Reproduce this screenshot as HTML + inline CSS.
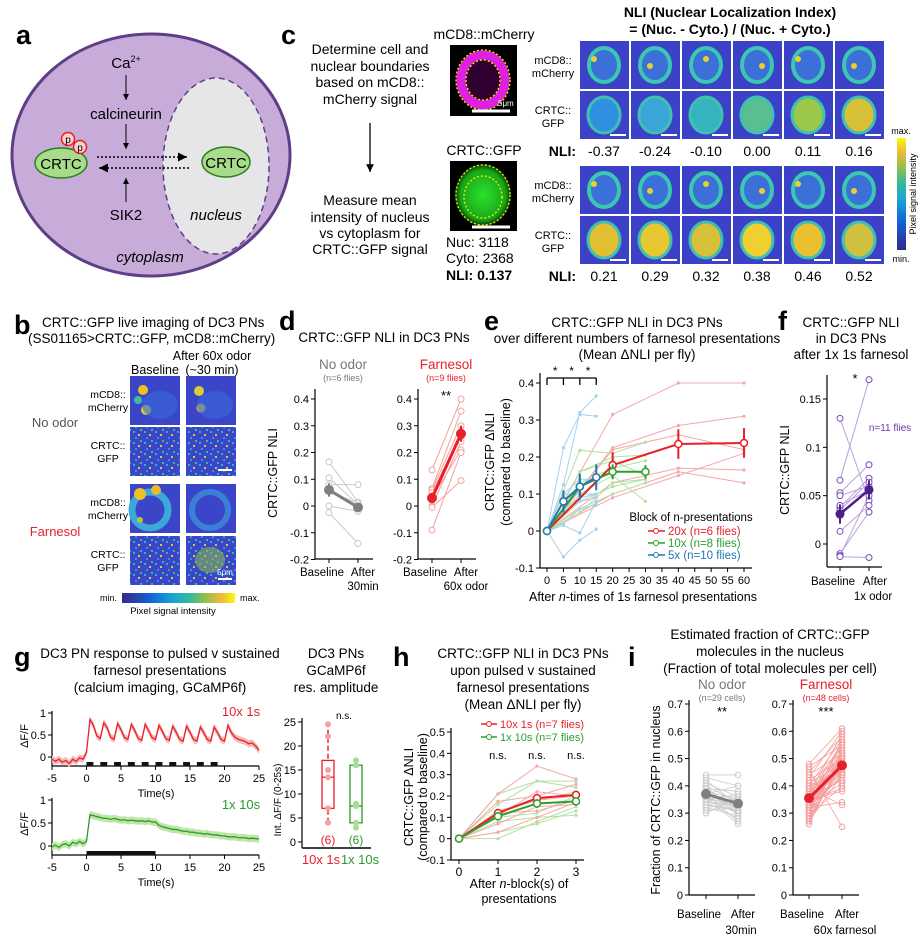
<!DOCTYPE html>
<html><head><meta charset="utf-8">
<style>
html,body{margin:0;padding:0;background:#fff;}
svg{display:block;font-family:"Liberation Sans",Arial,sans-serif;}
.pl{font-weight:bold;font-size:27px;}
</style></head>
<body>
<svg id="fig" width="923" height="941" viewBox="0 0 923 941" xmlns="http://www.w3.org/2000/svg">
<defs>
<marker id="ah" markerWidth="8" markerHeight="8" refX="6" refY="3" orient="auto"><path d="M0,0 L6,3 L0,6 z" fill="#000"/></marker>
<linearGradient id="parulaH" x1="0" x2="1" y1="0" y2="0">
<stop offset="0" stop-color="#352a87"/><stop offset="0.25" stop-color="#1360d8"/><stop offset="0.45" stop-color="#1aa5d4"/><stop offset="0.6" stop-color="#35b99c"/><stop offset="0.75" stop-color="#9cc048"/><stop offset="0.88" stop-color="#f0b93a"/><stop offset="1" stop-color="#f9fb0e"/></linearGradient>
<linearGradient id="parulaV" x1="0" x2="0" y1="1" y2="0">
<stop offset="0" stop-color="#352a87"/><stop offset="0.25" stop-color="#1360d8"/><stop offset="0.45" stop-color="#1aa5d4"/><stop offset="0.6" stop-color="#35b99c"/><stop offset="0.75" stop-color="#9cc048"/><stop offset="0.88" stop-color="#f0b93a"/><stop offset="1" stop-color="#f9fb0e"/></linearGradient>
<radialGradient id="gfpBlob"><stop offset="0" stop-color="#2ee02e"/><stop offset="0.8" stop-color="#18a818"/><stop offset="1" stop-color="#063806"/></radialGradient>
<pattern id="speck" width="11" height="11" patternUnits="userSpaceOnUse">
<rect width="11" height="11" fill="#3b45c8"/><rect x="1" y="2" width="2" height="2" fill="#2bb3c0"/><rect x="6" y="5" width="2" height="2" fill="#c8d040"/><rect x="3" y="8" width="2" height="2" fill="#3a8fe0"/><rect x="8" y="0" width="2" height="2" fill="#30c090"/></pattern>
</defs>

<g>
<text class="pl" x="16" y="44">a</text>
<ellipse cx="151" cy="155" rx="139" ry="121" fill="#c7acd9" stroke="#5e3f87" stroke-width="3"/>
<ellipse cx="216" cy="166" rx="53" ry="88" fill="#e6e6e9" stroke="#5e3f87" stroke-width="1.5" stroke-dasharray="6 4"/>
<text x="126" y="68" font-size="15" text-anchor="middle">Ca<tspan font-size="9" dy="-6">2+</tspan></text>
<line x1="126" y1="75" x2="126" y2="100" stroke="#000" marker-end="url(#ah)"/>
<text x="126" y="119" font-size="15" text-anchor="middle">calcineurin</text>
<line x1="126" y1="124" x2="126" y2="149" stroke="#000" marker-end="url(#ah)"/>
<ellipse cx="61" cy="163" rx="26" ry="15" fill="#a9dc8a" stroke="#2f7d1f" stroke-width="1.5"/>
<text x="61" y="169" font-size="15" text-anchor="middle">CRTC</text>
<circle cx="68" cy="139" r="6.5" fill="#fbd0d0" stroke="#e02020" stroke-width="1.5"/>
<text x="68" y="143" font-size="10" text-anchor="middle">p</text>
<circle cx="80" cy="147" r="6.5" fill="#fbd0d0" stroke="#e02020" stroke-width="1.5"/>
<text x="80" y="151" font-size="10" text-anchor="middle">p</text>
<line x1="97" y1="157" x2="187" y2="157" stroke="#000" stroke-width="1.5" stroke-dasharray="2 2" marker-end="url(#ah)"/>
<line x1="189" y1="168" x2="99" y2="168" stroke="#000" stroke-width="1.5" stroke-dasharray="2 2" marker-end="url(#ah)"/>
<line x1="126" y1="202" x2="126" y2="178" stroke="#000" marker-end="url(#ah)"/>
<text x="126" y="220" font-size="15" text-anchor="middle">SIK2</text>
<ellipse cx="226" cy="162" rx="24" ry="15" fill="#a9dc8a" stroke="#2f7d1f" stroke-width="1.5"/>
<text x="226" y="168" font-size="15" text-anchor="middle">CRTC</text>
<text x="216" y="220" font-size="15" font-style="italic" text-anchor="middle">nucleus</text>
<text x="150" y="262" font-size="15" font-style="italic" text-anchor="middle">cytoplasm</text>
</g>

<g>
<text class="pl" x="281" y="44">c</text>
<g font-size="14" text-anchor="middle">
<text x="370" y="54">Determine cell and</text><text x="370" y="71">nuclear boundaries</text><text x="370" y="87">based on mCD8::</text><text x="370" y="104">mCherry signal</text></g>
<line x1="370" y1="123" x2="370" y2="172" stroke="#000" stroke-width="1.3" marker-end="url(#ah)"/>
<g font-size="14" text-anchor="middle">
<text x="370" y="205">Measure mean</text><text x="370" y="222">intensity of nucleus</text><text x="370" y="238">vs cytoplasm for</text><text x="370" y="254">CRTC::GFP signal</text></g>
<text x="484" y="39" font-size="14" text-anchor="middle">mCD8::mCherry</text>
<rect x="450" y="45" width="67" height="71" fill="#000"/>
<ellipse cx="483" cy="80" rx="22" ry="25" fill="#300030" stroke="#e020e0" stroke-width="9"/>
<ellipse cx="483" cy="80" rx="27" ry="30" fill="none" stroke="#f0f000" stroke-width="1.3" stroke-dasharray="2 2"/>
<ellipse cx="483" cy="80" rx="17" ry="20" fill="none" stroke="#f0f000" stroke-width="1.3" stroke-dasharray="2 2"/>
<line x1="472" y1="111" x2="510" y2="111" stroke="#fff" stroke-width="3"/>
<text x="498" y="106" font-size="8" fill="#fff">5μm</text>
<text x="484" y="155" font-size="14" text-anchor="middle">CRTC::GFP</text>
<rect x="450" y="161" width="67" height="70" fill="#000"/>
<ellipse cx="483" cy="195" rx="28" ry="31" fill="url(#gfpBlob)"/>
<ellipse cx="483" cy="195" rx="27" ry="30" fill="none" stroke="#f0f000" stroke-width="1.3" stroke-dasharray="2 2"/>
<ellipse cx="483" cy="197" rx="19" ry="21" fill="none" stroke="#f0f000" stroke-width="1.3" stroke-dasharray="2 2"/>
<line x1="472" y1="227" x2="510" y2="227" stroke="#fff" stroke-width="3"/>
<g font-size="14">
<text x="446" y="247">Nuc:  3118</text><text x="446" y="263">Cyto: 2368</text><text x="446" y="280" font-weight="bold">NLI:  0.137</text></g>
<text x="730" y="17" font-size="14" font-weight="bold" text-anchor="middle">NLI (Nuclear Localization Index)</text>
<text x="730" y="34" font-size="14" font-weight="bold" text-anchor="middle">= (Nuc. - Cyto.) / (Nuc. + Cyto.)</text>
<g font-size="11" text-anchor="middle">
<text x="553" y="64">mCD8::</text><text x="553" y="77">mCherry</text>
<text x="553" y="114">CRTC::</text><text x="553" y="127">GFP</text>
<text x="553" y="189">mCD8::</text><text x="553" y="202">mCherry</text>
<text x="553" y="239">CRTC::</text><text x="553" y="252">GFP</text></g>
<text x="576" y="156" font-size="14" font-weight="bold" text-anchor="end">NLI:</text>
<text x="576" y="281" font-size="14" font-weight="bold" text-anchor="end">NLI:</text>
<g id="cgrid"></g>
<rect x="897" y="138" width="9" height="112" fill="url(#parulaV)"/>
<text x="901" y="134" font-size="9" text-anchor="middle">max.</text>
<text x="901" y="262" font-size="9" text-anchor="middle">min.</text>
<text transform="translate(916,194) rotate(-90)" font-size="9" text-anchor="middle">Pixel signal intensity</text>
</g>

<g>
<text class="pl" x="14" y="334">b</text>
<text x="42" y="327" font-size="13.5">CRTC::GFP live imaging of DC3 PNs</text>
<text x="28" y="343" font-size="13.5">(SS01165&gt;CRTC::GFP, mCD8::mCherry)</text>
<text x="212" y="360" font-size="12.5" text-anchor="middle">After 60x odor</text>
<text x="155" y="374" font-size="12.5" text-anchor="middle">Baseline</text>
<text x="212" y="374" font-size="12.5" text-anchor="middle">(~30 min)</text>
<text x="55" y="427" font-size="13" fill="#555" text-anchor="middle">No odor</text>
<text x="55" y="536" font-size="13" fill="#e8202a" text-anchor="middle">Farnesol</text>
<g font-size="10.5" text-anchor="middle">
<text x="108" y="398">mCD8::</text><text x="108" y="411">mCherry</text>
<text x="108" y="449">CRTC::</text><text x="108" y="462">GFP</text>
<text x="108" y="506">mCD8::</text><text x="108" y="519">mCherry</text>
<text x="108" y="558">CRTC::</text><text x="108" y="571">GFP</text></g>
<g>
<rect x="130" y="376" width="50" height="49" fill="#3b45c8"/><circle cx="143" cy="390" r="5" fill="#f0c020"/><circle cx="138" cy="400" r="4" fill="#3ac0a0"/><circle cx="146" cy="410" r="5" fill="#d8d030"/><ellipse cx="160" cy="405" rx="18" ry="14" fill="#3a6ad8" opacity="0.6"/>
<rect x="186" y="376" width="50" height="49" fill="#3b45c8"/><circle cx="199" cy="391" r="5" fill="#d8d030"/><circle cx="201" cy="408" r="4.5" fill="#e0c030"/><ellipse cx="215" cy="405" rx="18" ry="14" fill="#3a6ad8" opacity="0.6"/>
<rect x="130" y="427" width="50" height="49" fill="url(#speck)"/>
<rect x="186" y="427" width="50" height="49" fill="url(#speck)"/>
<line x1="218" y1="470" x2="232" y2="470" stroke="#fff" stroke-width="2"/>
<rect x="130" y="484" width="50" height="49" fill="#3b45c8"/><ellipse cx="150" cy="510" rx="18" ry="18" fill="none" stroke="#3aa8d8" stroke-width="7"/><circle cx="140" cy="494" r="6" fill="#f0c020"/><circle cx="156" cy="490" r="5" fill="#e8b830"/><circle cx="140" cy="520" r="3" fill="#c0c040"/>
<rect x="186" y="484" width="50" height="49" fill="#3b45c8"/><ellipse cx="210" cy="510" rx="18" ry="18" fill="none" stroke="#3a80d8" stroke-width="6"/>
<rect x="130" y="536" width="50" height="49" fill="url(#speck)"/>
<rect x="186" y="536" width="50" height="49" fill="url(#speck)"/><ellipse cx="210" cy="560" rx="15" ry="13" fill="#8cc048" opacity="0.55"/>
<line x1="218" y1="579" x2="232" y2="579" stroke="#fff" stroke-width="2"/>
<text x="225" y="575" font-size="8" fill="#fff" text-anchor="middle">5μm</text>
</g>
<rect x="122" y="593" width="113" height="10" fill="url(#parulaH)"/>
<text x="117" y="601" font-size="9" text-anchor="end">min.</text>
<text x="240" y="601" font-size="9">max.</text>
<text x="173" y="614" font-size="9.5" text-anchor="middle">Pixel signal intensity</text>
</g>

<text class="pl" x="279" y="330">d</text>
<text x="384" y="342" font-size="13.5" text-anchor="middle">CRTC::GFP NLI in DC3 PNs</text>
<text x="343" y="369" font-size="13.5" fill="#777" text-anchor="middle">No odor</text>
<text x="343" y="381" font-size="9" fill="#777" text-anchor="middle">(n=6 flies)</text>
<text x="446" y="369" font-size="13.5" fill="#e8202a" text-anchor="middle">Farnesol</text>
<text x="446" y="381" font-size="9" fill="#e8202a" text-anchor="middle">(n=9 flies)</text>
<text transform="translate(277,473) rotate(-90)" font-size="12.5" text-anchor="middle">CRTC::GFP NLI</text>

<text class="pl" x="484" y="330">e</text>
<g font-size="13.5" text-anchor="middle">
<text x="637" y="327">CRTC::GFP NLI in DC3 PNs</text><text x="637" y="343">over different numbers of farnesol presentations</text><text x="637" y="359">(Mean ΔNLI per fly)</text></g>
<text transform="translate(494,462) rotate(-90)" font-size="12.5" text-anchor="middle">CRTC::GFP ΔNLI</text>
<text transform="translate(510,462) rotate(-90)" font-size="12.5" text-anchor="middle">(compared to baseline)</text>
<text x="643" y="601" font-size="12.5" text-anchor="middle">After <tspan font-style="italic">n</tspan>-times of 1s farnesol presentations</text>

<text class="pl" x="778" y="330">f</text>
<g font-size="13.5" text-anchor="middle">
<text x="851" y="327">CRTC::GFP NLI</text><text x="851" y="343">in DC3 PNs</text><text x="851" y="359">after 1x 1s farnesol</text></g>
<text transform="translate(789,470) rotate(-90)" font-size="12.5" text-anchor="middle">CRTC::GFP NLI</text>
<text x="890" y="431" font-size="10" fill="#6a3aaa" text-anchor="middle">n=11 flies</text>

<text class="pl" x="14" y="666" font-size="34">g</text>
<g font-size="13.5" text-anchor="middle">
<text x="160" y="658">DC3 PN response to pulsed v sustained</text><text x="160" y="675">farnesol presentations</text><text x="160" y="692">(calcium imaging, GCaMP6f)</text></g>
<g font-size="13.5" text-anchor="middle">
<text x="336" y="658">DC3 PNs</text><text x="336" y="675">GCaMP6f</text><text x="336" y="692">res. amplitude</text></g>
<text x="241" y="716" font-size="13" fill="#e8202a" text-anchor="middle">10x 1s</text>
<text x="241" y="809" font-size="13" fill="#2a9a2a" text-anchor="middle">1x 10s</text>
<text transform="translate(28,736) rotate(-90)" font-size="11" text-anchor="middle">ΔF/F</text>
<text transform="translate(28,824) rotate(-90)" font-size="11" text-anchor="middle">ΔF/F</text>
<text x="156" y="797" font-size="11" text-anchor="middle">Time(s)</text>
<text x="156" y="886" font-size="11" text-anchor="middle">Time(s)</text>
<text transform="translate(281,800) rotate(-90)" font-size="10" text-anchor="middle">Int. ΔF/F (0-25s)</text>
<text x="321" y="864" font-size="13" fill="#e8202a" text-anchor="middle">10x 1s</text>
<text x="360" y="864" font-size="13" fill="#2a9a2a" text-anchor="middle">1x 10s</text>
<text x="344" y="719" font-size="10" text-anchor="middle">n.s.</text>

<text class="pl" x="393" y="666" font-size="34">h</text>
<g font-size="13.5" text-anchor="middle">
<text x="523" y="658">CRTC::GFP NLI in DC3 PNs</text><text x="523" y="675">upon pulsed v sustained</text><text x="523" y="692">farnesol presentations</text><text x="523" y="709">(Mean ΔNLI per fly)</text></g>
<text transform="translate(413,797) rotate(-90)" font-size="12.5" text-anchor="middle">CRTC::GFP ΔNLI</text>
<text transform="translate(427,797) rotate(-90)" font-size="12.5" text-anchor="middle">(compared to baseline)</text>
<text x="519" y="888" font-size="12.5" text-anchor="middle">After <tspan font-style="italic">n</tspan>-block(s) of</text>
<text x="519" y="903" font-size="12.5" text-anchor="middle">presentations</text>

<text class="pl" x="628" y="666" font-size="34">i</text>
<g font-size="13.5" text-anchor="middle">
<text x="770" y="639">Estimated fraction of CRTC::GFP</text><text x="770" y="656">molecules in the nucleus</text><text x="770" y="673">(Fraction of total molecules per cell)</text></g>
<text x="722" y="689" font-size="13.5" fill="#777" text-anchor="middle">No odor</text>
<text x="722" y="701" font-size="9" fill="#777" text-anchor="middle">(n=29 cells)</text>
<text x="826" y="689" font-size="13.5" fill="#e8202a" text-anchor="middle">Farnesol</text>
<text x="826" y="701" font-size="9" fill="#e8202a" text-anchor="middle">(n=48 cells)</text>
<text transform="translate(660,800) rotate(-90)" font-size="12.5" text-anchor="middle">Fraction of CRTC::GFP in nucleus</text>

<g id="charts"></g>
</svg>

<script>
const cNliTop = ["-0.37","-0.24","-0.10","0.00","0.11","0.16"];
const cNliBottom = ["0.21","0.29","0.32","0.38","0.46","0.52"];

const dTicks = [0.4,0.3,0.2,0.1,0,-0.1,-0.2];
const dNoBase = [0.165,0.105,0.08,0.0,-0.025,0.055];
const dNoAfter = [0.015,0.005,0.08,-0.02,-0.14,0.01];
const dNoMean = [0.06,-0.005];
const dNoErr = [0.025,0.012];
const dFaBase = [0.135,0.065,0.06,0.05,0.03,0.02,0.0,-0.005,-0.09];
const dFaAfter = [0.40,0.355,0.30,0.27,0.21,0.26,0.24,0.095,0.20];
const dFaMean = [0.03,0.27];
const dFaErr = [0.02,0.03];

const eTicksX = [0,5,10,15,20,25,30,35,40,45,50,55,60];
const eTicksY = [-0.1,0,0.1,0.2,0.3,0.4];
const e20x = [0,20,40,60];
const e20Mean = [0,0.178,0.235,0.238];
const e20Err = [0,0.035,0.04,0.04];
const e20Flies = [[0,0.315,0.40,0.40],[0,0.225,0.285,0.31],[0,0.22,0.26,0.22],[0,0.13,0.17,0.165],[0,0.10,0.16,0.13],[0,0.09,0.15,0.21]];
const e10x = [0,10,20,30];
const e10Mean = [0,0.12,0.16,0.16];
const e10Err = [0,0.025,0.02,0.018];
const e10Flies = [[0,0.218,0.21,0.24],[0,0.16,0.20,0.205],[0,0.13,0.17,0.19],[0,0.10,0.15,0.08],[0,0.06,0.10,0.13],[0,0.05,0.13,0.14],[0,0.08,0.12,0.14],[0,0.16,0.19,0.15]];
const e5x = [0,5,10,15];
const e5Mean = [0,0.08,0.12,0.145];
const e5Err = [0,0.03,0.035,0.035];
const e5Flies = [[0,0.225,0.315,0.31],[0,0.125,0.32,0.365],[0,0.10,0.10,0.10],[0,0.08,0.12,0.15],[0,0.05,0.08,0.09],[0,0.02,0.06,0.07],[0,0.015,-0.005,0.08],[0,-0.07,-0.025,0.005],[0,0.10,0.14,0.14],[0,0.06,0.09,0.10]];

const fTicks = [0,0.05,0.1,0.15];
const fTickLabels = ["0","0.05","0.1","0.15"];
const fBase = [0.13,0.066,0.053,0.05,0.038,0.035,0.013,-0.01,-0.012,-0.013,0.04];
const fAfter = [0.045,0.17,0.082,0.06,0.068,0.064,0.04,0.033,0.05,-0.014,0.056];
const fMean = [0.031,0.056];
const fErr = [0.01,0.01];

const gTicksX = [-5,0,5,10,15,20,25];
const gTime = [];
for (let i = 0; i <= 60; i++) gTime.push(-5 + i*0.5);
const gPulseTrace = [-0.05,-0.1,-0.05,-0.12,-0.08,-0.15,-0.05,-0.1,-0.02,-0.05,0.1,
 0.85,0.72,0.48,0.42, 0.78,0.66,0.45,0.40, 0.76,0.62,0.44,0.40, 0.74,0.60,0.42,0.38, 0.74,0.60,0.44,0.40,
 0.72,0.58,0.42,0.38, 0.70,0.56,0.40,0.36, 0.70,0.56,0.40,0.36, 0.68,0.55,0.40,0.36, 0.68,0.55,0.40,0.36,
 0.72,0.55,0.45,0.40,0.38,0.35,0.30,0.32,0.25,0.15];
const gSustTrace = [-0.02,0.02,-0.03,0.03,0.05,0.0,0.08,0.05,0.1,0.05,0.1,
 0.68,0.66,0.64,0.62,0.6,0.6,0.58,0.6,0.58,0.56,0.57,0.55,0.56,0.55,0.54,0.55,0.53,0.55,0.52,0.52,
 0.45,0.42,0.4,0.38,0.36,0.36,0.34,0.32,0.32,0.3,0.3,0.28,0.28,0.26,0.27,0.25,0.24,0.24,0.22,0.22,0.2,0.2,0.2,0.18,0.18,0.18,0.16,0.17,0.16,0.15];
const gSem = 0.08;
const gPulseStarts = [0,2,4,6,8,10,12,14,16,18];
const gPulseDur = 1;
const gSustStart = [0];
const gSustDur = 10;

const boxTicks = [0,5,10,15,20,25];
const boxRed = {min:4, q1:7, med:13.5, q3:17, max:24.5};
const boxRedPts = [24.5,22,15,13.5,7,4];
const boxGreen = {min:3, q1:4, med:7.5, q3:16, max:17};
const boxGreenPts = [17,16,8,7.5,4,3];

const hTicksX = [0,1,2,3];
const hTicksY = [-0.1,0,0.1,0.2,0.3,0.4,0.5];
const hRedMean = [0,0.12,0.19,0.205];
const hRedErr = [0,0.02,0.02,0.015];
const hGreenMean = [0,0.105,0.165,0.175];
const hGreenErr = [0,0.02,0.02,0.015];
const hRedFlies = [[0,0.21,0.34,0.28],[0,0.175,0.2,0.255],[0,0.13,0.18,0.2],[0,0.11,0.22,0.2],[0,0.07,0.15,0.16],[0,0.03,0.1,0.17],[0,0.12,0.13,0.18]];
const hGreenFlies = [[0,0.21,0.27,0.27],[0,0.16,0.27,0.24],[0,0.12,0.18,0.22],[0,0.1,0.12,0.2],[0,0.08,0.1,0.11],[0,0.03,0.07,0.13],[0,0.0,0.08,0.15]];

const iTicks = [0,0.1,0.2,0.3,0.4,0.5,0.6,0.7];
const iNoBase = [0.44,0.43,0.42,0.41,0.40,0.40,0.39,0.39,0.38,0.38,0.37,0.37,0.37,0.36,0.36,0.36,0.35,0.35,0.35,0.34,0.34,0.33,0.33,0.32,0.32,0.31,0.30,0.38,0.36];
const iNoAfter = [0.44,0.40,0.33,0.36,0.34,0.29,0.38,0.31,0.35,0.30,0.33,0.27,0.40,0.32,0.36,0.26,0.34,0.30,0.37,0.33,0.28,0.35,0.31,0.34,0.29,0.32,0.36,0.31,0.30];
const iNoMean = [0.37,0.335];
const iFaBase = [0.48,0.47,0.46,0.45,0.44,0.43,0.42,0.41,0.40,0.40,0.39,0.39,0.38,0.38,0.37,0.37,0.37,0.36,0.36,0.36,0.35,0.35,0.35,0.35,0.34,0.34,0.34,0.33,0.33,0.33,0.32,0.32,0.32,0.31,0.31,0.30,0.30,0.29,0.29,0.28,0.28,0.27,0.27,0.26,0.36,0.34,0.33,0.35];
const iFaAfter = [0.61,0.55,0.25,0.58,0.52,0.6,0.5,0.48,0.57,0.45,0.54,0.33,0.51,0.47,0.59,0.44,0.49,0.53,0.42,0.56,0.46,0.5,0.38,0.52,0.48,0.43,0.55,0.47,0.41,0.51,0.49,0.34,0.45,0.5,0.44,0.47,0.53,0.46,0.4,0.48,0.52,0.44,0.49,0.5,0.42,0.46,0.56,0.39];
const iFaMean = [0.355,0.475];

const NS = "http://www.w3.org/2000/svg";
const root = document.getElementById("charts");
function mk(parent, tag, attrs, txt) {
  const el = document.createElementNS(NS, tag);
  for (const k in attrs) el.setAttribute(k, attrs[k]);
  if (txt !== undefined) el.textContent = txt;
  parent.appendChild(el);
  return el;
}
function lin(d0, d1, r0, r1) { return v => r0 + (v - d0) * (r1 - r0) / (d1 - d0); }
function grp(name) {
  const g = mk(root, "g", {});
  
  
  return g;
}
function yAxis(g, x, y0, y1, ticks, ys, labels) {
  const ax = mk(g, "line", {x1:x, x2:x, y1:y0, y2:y1, stroke:"#000", "stroke-width":1.2});
  
  
  ticks.forEach((t, i) => {
    mk(g, "line", {x1:x-4, x2:x, y1:ys(t), y2:ys(t), stroke:"#000"});
    const lb = mk(g, "text", {x:x-6, y:ys(t)+4, "font-size":11, "text-anchor":"end"}, labels ? labels[i] : String(t));
    
    
  });
}
function xAxis(g, y, x0, x1, ticks, xs, labels, fs) {
  const ax = mk(g, "line", {x1:x0, x2:x1, y1:y, y2:y, stroke:"#000", "stroke-width":1.2});
  
  
  ticks.forEach((t, i) => {
    mk(g, "line", {x1:xs(t), x2:xs(t), y1:y, y2:y+4, stroke:"#000"});
    const lb = mk(g, "text", {x:xs(t), y:y+16, "font-size":fs||11, "text-anchor":"middle"}, labels ? labels[i] : String(t));
    
    
  });
}
function poly(g, xs, ys, stroke, w, op) {
  return mk(g, "polyline", {points: xs.map((x,i)=>x+","+ys[i]).join(" "), fill:"none", stroke:stroke, "stroke-width":w, opacity: op===undefined?1:op});
}
function dot(g, x, y, r, stroke, fill, w) {
  return mk(g, "circle", {cx:x, cy:y, r:r, fill:fill||"#fff", stroke:stroke, "stroke-width":w||1});
}

(function(){
  const g = document.getElementById("cgrid");
  const nucCols = ["#2f8fe0","#3aa6d8","#35b4c0","#5abf90","#9cc84a","#d8c038"];
  const nucCols2 = ["#e0c030","#e8c830","#d8c038","#f0d030","#e8c030","#d0c040"];
  [[41,91,150,cNliTop,nucCols],[166,216,275,cNliBottom,nucCols2]].forEach(set => {
    for (let i = 0; i < 6; i++) {
      const x = 580 + i*51;
      const a = mk(g, "rect", {x:x, y:set[0], width:49, height:48, fill:"#3b42c8"});
      
      
      mk(g, "ellipse", {cx:x+24, cy:set[0]+24, rx:15, ry:17, fill:"#3a70d8", stroke:"#3ac8b0", "stroke-width":4});
      mk(g, "circle", {cx:x+14+(i*5)%20, cy:set[0]+18+(i*7)%14, r:3, fill:"#e8d030"});
      const b = mk(g, "rect", {x:x, y:set[1], width:49, height:48, fill:"#3b42c8"});
      
      
      mk(g, "ellipse", {cx:x+24, cy:set[1]+24, rx:16, ry:18, fill:set[4][i], stroke:"#40c0b0", "stroke-width":3});
      mk(g, "line", {x1:x+30, x2:x+46, y1:set[1]+44, y2:set[1]+44, stroke:"#fff", "stroke-width":2});
      const t = mk(g, "text", {x:x+24, y:set[2]+6, "font-size":14, "text-anchor":"middle"}, set[3][i]);
      
      
    }
  });
})();

(function(){
  const yD = lin(0, 0.4, 506, 399);
  [[315, 329, 358, dNoBase, dNoAfter, dNoMean, dNoErr, "#c8c8c8", "#808080", "d-no-odor-plot", "30min"],
   [418, 432, 461, dFaBase, dFaAfter, dFaMean, dFaErr, "#f4a0a0", "#e8202a", "d-farnesol-plot", "60x odor"]].forEach(p => {
    const g = grp(p[9]);
    yAxis(g, p[0], 389, 559, dTicks, yD);
    const xb = mk(g, "line", {x1:p[0], x2:p[0]+58, y1:559, y2:559, stroke:"#000", "stroke-width":1.2});
    
    
    [p[1], p[2]].forEach(x => mk(g, "line", {x1:x, x2:x, y1:559, y2:563, stroke:"#000"}));
    mk(g, "text", {x:p[1]-7, y:576, "font-size":11.5, "text-anchor":"middle"}, "Baseline");
    mk(g, "text", {x:p[2]+5, y:576, "font-size":11.5, "text-anchor":"middle"}, "After");
    mk(g, "text", {x:p[2]+5, y:590, "font-size":11.5, "text-anchor":"middle"}, p[10]);
    p[3].forEach((b, i) => {
      const l = poly(g, [p[1], p[2]], [yD(b), yD(p[4][i])], p[7], 1);
      
      
      dot(g, p[1], yD(b), 3, p[7]);
      dot(g, p[2], yD(p[4][i]), 3, p[7]);
    });
    [0,1].forEach(j => mk(g, "line", {x1:[p[1],p[2]][j], x2:[p[1],p[2]][j], y1:yD(p[5][j]-p[6][j]), y2:yD(p[5][j]+p[6][j]), stroke:p[8], "stroke-width":2}));
    const m = poly(g, [p[1], p[2]], [yD(p[5][0]), yD(p[5][1])], p[8], 3);
    
    
    dot(g, p[1], yD(p[5][0]), 4.5, p[8], p[8]);
    dot(g, p[2], yD(p[5][1]), 4.5, p[8], p[8]);
  });
  const st = mk(root, "text", {x:446, y:400, "font-size":13, "text-anchor":"middle"}, "**");
  
  
})();

(function(){
  const g = grp("e-chart");
  const xE = lin(0, 60, 547, 744);
  const yE = lin(-0.1, 0.4, 568, 383);
  yAxis(g, 540, 373, 568, eTicksY, yE, ["-0.1","0","0.1","0.2","0.3","0.4"]);
  xAxis(g, 568, 540, 752, eTicksX, xE);
  const series = [[e20x, e20Flies, e20Mean, e20Err, "#f4a8a8", "#e8202a", "series-20x"],
                  [e10x, e10Flies, e10Mean, e10Err, "#b4e0a0", "#2ca02c", "series-10x"],
                  [e5x, e5Flies, e5Mean, e5Err, "#a8d0ee", "#1f77b4", "series-5x"]];
  series.forEach(s => {
    s[1].forEach(f => {
      const l = poly(g, s[0].map(xE), f.map(yE), s[4], 1);
      
      
      f.forEach((v, i) => mk(g, "circle", {cx:xE(s[0][i]), cy:yE(v), r:1.6, fill:s[4]}));
    });
  });
  series.forEach(s => {
    s[2].forEach((v, i) => mk(g, "line", {x1:xE(s[0][i]), x2:xE(s[0][i]), y1:yE(v-s[3][i]), y2:yE(v+s[3][i]), stroke:s[5], "stroke-width":2}));
    const m = poly(g, s[0].map(xE), s[2].map(yE), s[5], 2);
    
    
    s[2].forEach((v, i) => dot(g, xE(s[0][i]), yE(v), 3.5, s[5], "#fff", 1.5));
  });
  mk(g, "line", {x1:xE(0), x2:xE(15), y1:378, y2:378, stroke:"#000", "stroke-width":1.3});
  [0,5,10,15].forEach(t => mk(g, "line", {x1:xE(t), x2:xE(t), y1:378, y2:385, stroke:"#000", "stroke-width":1.3}));
  [2.5,7.5,12.5].forEach(t => {
    const s = mk(g, "text", {x:xE(t), y:375, "font-size":12, "text-anchor":"middle"}, "*");
    
    
  });
  const lg = mk(g, "g", {});
  
  
  mk(lg, "text", {x:691, y:521, "font-size":11.5, "text-anchor":"middle"}, "Block of n-presentations");
  const lgLabels = ["20x (n=6 flies)", "10x (n=8 flies)", "5x (n=10 flies)"];
  const lgCols = ["#e8202a", "#2ca02c", "#1f77b4"];
  lgLabels.forEach((t, i) => {
    const y = 531 + i*12;
    mk(lg, "line", {x1:648, x2:665, y1:y, y2:y, stroke:lgCols[i], "stroke-width":1.5});
    mk(lg, "circle", {cx:656, cy:y, r:2.5, fill:"#fff", stroke:lgCols[i]});
    const lt = mk(lg, "text", {x:668, y:y+4, "font-size":11.5, fill:lgCols[i]}, t);
    
    
  });
})();

(function(){
  const g = grp("f-chart");
  const yF = lin(0, 0.15, 544, 399);
  yAxis(g, 827, 375, 567, fTicks, yF, fTickLabels);
  const xa = mk(g, "line", {x1:827, x2:882, y1:567, y2:567, stroke:"#000", "stroke-width":1.2});
  
  
  [840, 869].forEach(x => mk(g, "line", {x1:x, x2:x, y1:567, y2:571, stroke:"#000"}));
  mk(g, "text", {x:833, y:585, "font-size":11.5, "text-anchor":"middle"}, "Baseline");
  mk(g, "text", {x:875, y:585, "font-size":11.5, "text-anchor":"middle"}, "After");
  mk(g, "text", {x:873, y:600, "font-size":11.5, "text-anchor":"middle"}, "1x odor");
  fBase.forEach((b, i) => {
    const l = poly(g, [840, 869], [yF(b), yF(fAfter[i])], "#b9a0dc", 1);
    
    
    dot(g, 840, yF(b), 3, "#7a4ab8");
    dot(g, 869, yF(fAfter[i]), 3, "#7a4ab8");
  });
  [0,1].forEach(j => mk(g, "line", {x1:[840,869][j], x2:[840,869][j], y1:yF(fMean[j]-fErr[j]), y2:yF(fMean[j]+fErr[j]), stroke:"#4a1f8a", "stroke-width":2}));
  const m = poly(g, [840, 869], fMean.map(yF), "#4a1f8a", 2.5);
  
  
  fMean.forEach((v, j) => dot(g, [840,869][j], yF(v), 4, "#4a1f8a", "#4a1f8a"));
  const s = mk(g, "text", {x:855, y:383, "font-size":13, "text-anchor":"middle"}, "*");
  
  
})();

(function(){
  const xG = lin(-5, 25, 52, 259);
  [[gPulseTrace, lin(0,1,757,713), 766, "#e8202a", "#f6b8b8", gPulseStarts, gPulseDur, "g-pulsed-trace"],
   [gSustTrace, lin(0,1,846,800), 855, "#2a9a2a", "#bfe6a8", gSustStart, gSustDur, "g-sustained-trace"]].forEach(p => {
    const g = grp(p[7]);
    const y = p[1];
    yAxis(g, 52, y(1)-2, p[2], [0,0.5,1], y, ["0","0.5","1"]);
    xAxis(g, p[2], 52, 259, gTicksX, xG);
    const up = gTime.map((t,i)=>xG(t)+","+y(p[0][i]+gSem)).join(" ");
    const dn = gTime.slice().reverse().map((t,k)=>{const i=gTime.length-1-k; return xG(t)+","+y(p[0][i]-gSem);}).join(" ");
    const band = mk(g, "polygon", {points: up + " " + dn, fill:p[4], stroke:"none"});
    
    
    const tr = poly(g, gTime.map(xG), p[0].map(y), p[3], 1.3);
    
    
    p[5].forEach(s => {
      const r = mk(g, "rect", {x:xG(s), y:p[2]-4, width:xG(s+p[6])-xG(s), height:4, fill:"#111"});
      
      
    });
  });
})();

(function(){
  const g = grp("g-box-plot");
  const yB = lin(0, 25, 842, 722);
  yAxis(g, 302, 718, 848, boxTicks, yB);
  const xa = mk(g, "line", {x1:302, x2:371, y1:848, y2:848, stroke:"#000", "stroke-width":1.5});
  
  
  [[328, boxRed, boxRedPts, "#e8202a", "#f4a0a0", "box-red"], [356, boxGreen, boxGreenPts, "#2a9a2a", "#a8dc90", "box-green"]].forEach(b => {
    const s = b[1];
    mk(g, "line", {x1:b[0], x2:b[0], y1:yB(s.min), y2:yB(s.max), stroke:b[3], "stroke-width":1.5, "stroke-dasharray":"5 3"});
    const r = mk(g, "rect", {x:b[0]-6, y:yB(s.q3), width:12, height:yB(s.q1)-yB(s.q3), fill:"#fff", stroke:b[3], "stroke-width":1.3});
    
    
    mk(g, "line", {x1:b[0]-6, x2:b[0]+6, y1:yB(s.med), y2:yB(s.med), stroke:b[3], "stroke-width":1.3});
    b[2].forEach(v => mk(g, "circle", {cx:b[0], cy:yB(v), r:3, fill:b[4]}));
    const n = mk(g, "text", {x:b[0], y:844, "font-size":12, fill:b[3], "text-anchor":"middle"}, "(6)");
    
    
  });
})();

(function(){
  const g = grp("h-chart");
  const xH = lin(0, 3, 459, 576);
  const yH = lin(-0.1, 0.5, 860, 732);
  yAxis(g, 451, 728, 860, hTicksY, yH, ["-0.1","0","0.1","0.2","0.3","0.4","0.5"]);
  xAxis(g, 860, 451, 584, hTicksX, xH, null, 12);
  [[hGreenFlies, "#b4e0a0"], [hRedFlies, "#f4a8a8"]].forEach(s => s[0].forEach(f => {
    const l = poly(g, hTicksX.map(xH), f.map(yH), s[1], 1);
    
    
    f.forEach((v,i) => mk(g, "circle", {cx:xH(hTicksX[i]), cy:yH(v), r:1.6, fill:s[1]}));
  }));
  [[hRedMean, hRedErr, "#e8202a", "h-red-series"], [hGreenMean, hGreenErr, "#2ca02c", "h-green-series"]].forEach(s => {
    s[0].forEach((v,i) => mk(g, "line", {x1:xH(hTicksX[i]), x2:xH(hTicksX[i]), y1:yH(v-s[1][i]), y2:yH(v+s[1][i]), stroke:s[2], "stroke-width":2}));
    const m = poly(g, hTicksX.map(xH), s[0].map(yH), s[2], 2);
    
    
    s[0].forEach((v,i) => dot(g, xH(hTicksX[i]), yH(v), 3.5, s[2], "#fff", 1.5));
  });
  [1,2,3].forEach(t => {
    const n = mk(g, "text", {x:xH(t), y:759, "font-size":11, "text-anchor":"middle"}, "n.s.");
    
    
  });
  const lg = mk(g, "g", {});
  
  
  [["10x 1s (n=7 flies)", "#e8202a", 724], ["1x 10s (n=7 flies)", "#2ca02c", 737]].forEach(e => {
    mk(lg, "line", {x1:481, x2:497, y1:e[2], y2:e[2], stroke:e[1], "stroke-width":1.5});
    mk(lg, "circle", {cx:489, cy:e[2], r:2.5, fill:"#fff", stroke:e[1]});
    const t = mk(lg, "text", {x:500, y:e[2]+4, "font-size":11, fill:e[1]}, e[0]);
    
    
  });
})();

(function(){
  const yI = lin(0, 0.7, 895, 704);
  [[689, 706, 738, iNoBase, iNoAfter, iNoMean, "#cccccc", "#808080", "i-no-odor-plot", "30min", "**", 722],
   [793, 809, 842, iFaBase, iFaAfter, iFaMean, "#f4a0a0", "#e8202a", "i-farnesol-plot", "60x farnesol", "***", 826]].forEach(p => {
    const g = grp(p[8]);
    yAxis(g, p[0], 700, 895, iTicks, yI);
    const xa = mk(g, "line", {x1:p[0], x2:p[0]+66, y1:895, y2:895, stroke:"#000", "stroke-width":1.2});
    
    
    [p[1], p[2]].forEach(x => mk(g, "line", {x1:x, x2:x, y1:895, y2:899, stroke:"#000"}));
    mk(g, "text", {x:p[1]-7, y:918, "font-size":11.5, "text-anchor":"middle"}, "Baseline");
    mk(g, "text", {x:p[2]+5, y:918, "font-size":11.5, "text-anchor":"middle"}, "After");
    mk(g, "text", {x:p[2]+3, y:934, "font-size":11.5, "text-anchor":"middle"}, p[9]);
    p[3].forEach((b, i) => {
      const l = poly(g, [p[1], p[2]], [yI(b), yI(p[4][i])], p[6], 0.8);
      
      
      dot(g, p[1], yI(b), 2.8, p[6], "none");
      dot(g, p[2], yI(p[4][i]), 2.8, p[6], "none");
    });
    const m = poly(g, [p[1], p[2]], p[5].map(yI), p[7], 3);
    
    
    p[5].forEach((v, j) => dot(g, [p[1],p[2]][j], yI(v), 4.5, p[7], p[7]));
    const s = mk(g, "text", {x:p[11], y:716, "font-size":13, "text-anchor":"middle"}, p[10]);
    
    
  });
})();
</script>
</body></html>
